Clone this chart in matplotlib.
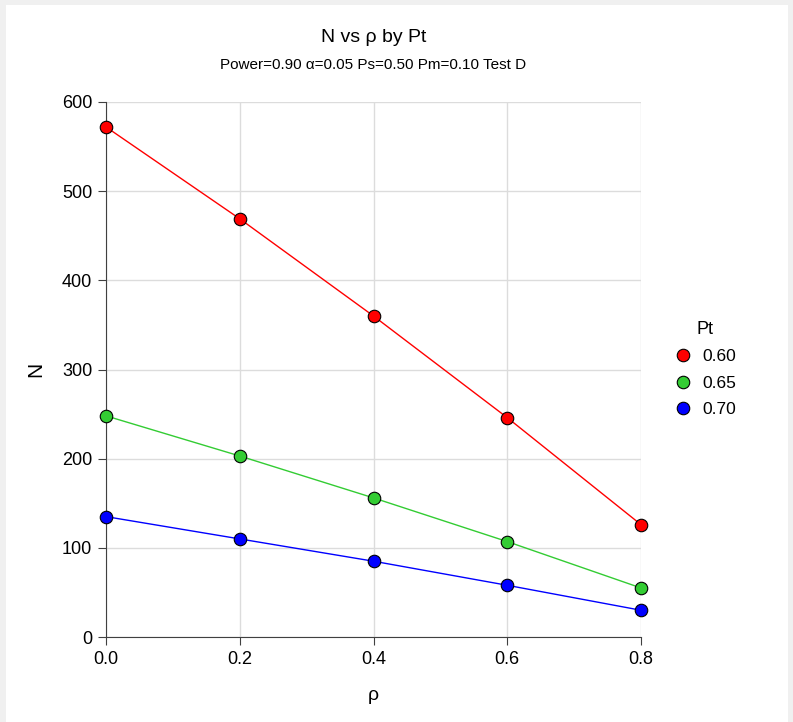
import matplotlib

matplotlib.use("Agg")
import matplotlib.pyplot as plt
from matplotlib.lines import Line2D
from matplotlib.patches import Rectangle

plt.rcParams["font.family"] = ["Liberation Sans", "DejaVu Sans"]

rho = [0.0, 0.2, 0.4, 0.6, 0.8]
pt_labels = ["0.60", "0.65", "0.70"]
n_pt060 = [572, 469, 360, 246, 126]
n_pt065 = [248, 203, 156, 107, 55]
n_pt070 = [135, 110, 85, 58, 30]
series = [n_pt060, n_pt065, n_pt070]
colors = ["#ff0000", "#33cc33", "#0000ff"]

fig = plt.figure(figsize=(7.93, 7.22), dpi=100, facecolor="#f0f0f0")
fig.patches.append(
    Rectangle((6 / 793, 0), 782 / 793, 717 / 722, transform=fig.transFigure,
              facecolor="white", edgecolor="none", zorder=-10)
)

ax = fig.add_axes([106 / 793, 85 / 722, 535 / 793, 535 / 722])
ax.set_zorder(1)
ax.set_facecolor("white")

for values, color, label in zip(series, colors, pt_labels):
    ax.plot(rho, values, color=color, linewidth=1, marker="o", markersize=9,
            markerfacecolor=color, markeredgecolor="black", markeredgewidth=0.8,
            label=label, clip_on=False, zorder=3)

ax.set_xlim(0, 0.8)
ax.set_ylim(0, 600)
ax.set_xticks(rho)
ax.set_xticklabels([f"{v:.1f}" for v in rho])
ax.set_yticks(range(0, 601, 100))
ax.grid(True, color="#dcdcdc", linewidth=1)
ax.set_axisbelow(True)
for side in ["top", "right"]:
    ax.spines[side].set_visible(False)
for side in ["left", "bottom"]:
    ax.spines[side].set_color("#404040")
ax.tick_params(axis="both", direction="out", length=6, color="#404040",
               labelsize=13, pad=4)

ax.set_xlabel("ρ", fontsize=14, labelpad=14)
ax.set_ylabel("N", fontsize=15, labelpad=12)

fig.text(0.5 * (106 + 641) / 793, 1 - 38 / 722, "N vs ρ by Pt",
         ha="center", va="center", fontsize=14)
fig.text(0.5 * (106 + 641) / 793, 1 - 65 / 722,
         "Power=0.90 α=0.05 Ps=0.50 Pm=0.10 Test D",
         ha="center", va="center", fontsize=11)

handles = [
    Line2D([], [], linestyle="none", marker="o", markersize=9,
           markerfacecolor=color, markeredgecolor="black", markeredgewidth=0.8)
    for color in colors
]
legend = fig.legend(handles, pt_labels, title="Pt", loc="center left",
                    bbox_to_anchor=(659 / 793, 1 - 369 / 722),
                    frameon=False, fontsize=12.5, title_fontsize=13,
                    handlelength=1.0, handletextpad=0.6, labelspacing=0.65)

fig.savefig("out.png", dpi=100, facecolor=fig.get_facecolor())
